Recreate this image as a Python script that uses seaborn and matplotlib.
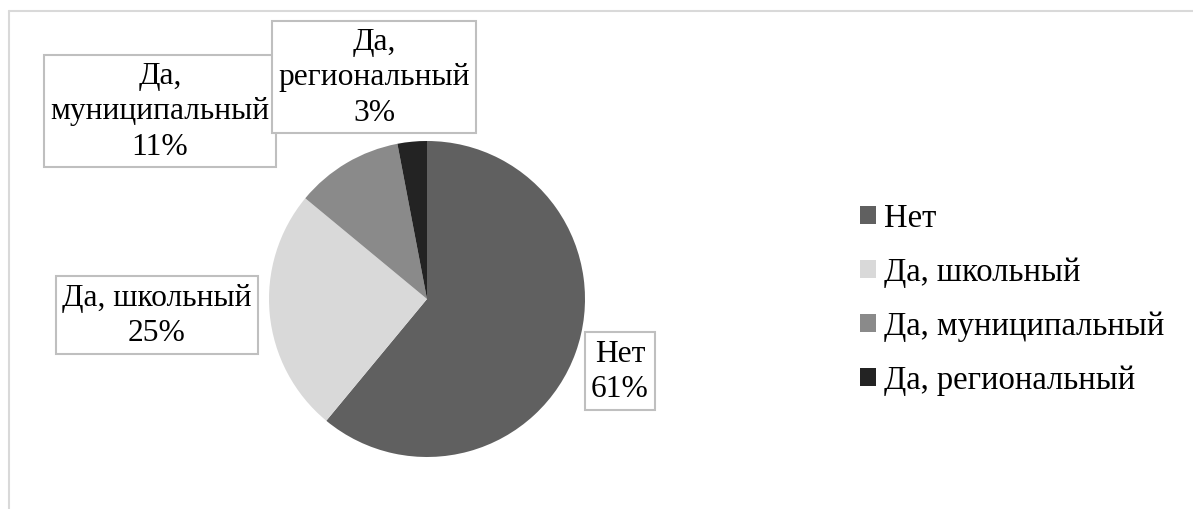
import matplotlib
matplotlib.use("Agg")
import matplotlib.pyplot as plt
from matplotlib.lines import Line2D
import seaborn as sns

# data
categories = ["Нет", "Да, школьный", "Да, муниципальный", "Да, региональный"]
shares = [61, 25, 11, 3]
label_texts = ["Нет\n61%", "Да, школьный\n25%", "Да,\nмуниципальный\n11%", "Да,\nрегиональный\n3%"]

colors = ["#606060", "#d9d9d9", "#8a8a8a", "#232323"]
# label box centres in figure pixels (x, y from top)
label_pos = [(620, 372), (157, 316), (160, 112), (374, 78)]

sns.set_theme(style="white")
serif = ['Liberation Serif', 'DejaVu Serif']
plt.rcParams['font.family'] = serif

W, H = 1193, 510
fig = plt.figure(figsize=(W / 100, H / 100), dpi=100)

cx, cy, r = 427, 300, 158
ax = fig.add_axes([(cx - r) / W, (H - cy - r) / H, 2 * r / W, 2 * r / H])
wedges, _ = ax.pie(shares, colors=colors, startangle=90, counterclock=False,
                   wedgeprops=dict(linewidth=0), radius=1.0)
ax.set_xlim(-1, 1)
ax.set_ylim(-1, 1)
ax.set_aspect("equal")
ax.axis("off")

for txt, (px, py) in zip(label_texts, label_pos):
    fig.text(px / W, 1 - py / H, txt, ha="center", va="center", fontsize=22.7,
             family=serif, color="black", linespacing=1.3,
             bbox=dict(boxstyle="square,pad=0.2", fc="white", ec="#bfbfbf", lw=1.5))

leg = fig.legend(wedges, categories, loc="center left",
                 bbox_to_anchor=(844 / W, 1 - 300 / H), frameon=False, borderpad=0,
                 prop=dict(family=serif, size=23.5), handlelength=0.48, handleheight=0.48,
                 handletextpad=0.25, labelspacing=0.72)
for t in leg.get_texts():
    t.set_color("black")

# chart area outline (top and left edges visible)
fig.add_artist(Line2D([9 / W, 9 / W], [0, 1 - 12 / H], color="#d9d9d9", lw=1.5,
                      transform=fig.transFigure))
fig.add_artist(Line2D([9 / W, 1], [1 - 12 / H, 1 - 12 / H], color="#d9d9d9", lw=1.5,
                      transform=fig.transFigure))

fig.savefig("out.png", dpi=100, facecolor="white")
